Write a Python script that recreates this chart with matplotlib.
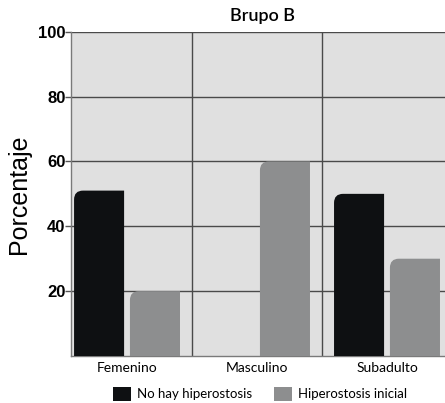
import matplotlib
matplotlib.use("Agg")
import matplotlib.pyplot as plt
from matplotlib.path import Path
from matplotlib.patches import PathPatch, Patch
import numpy as np

categories = ["Femenino", "Masculino", "Subadulto"]
no_hiperostosis = [51, 0, 50]
hiperostosis_inicial = [20, 60, 30]
series_labels = ["No hay hiperostosis", "Hiperostosis inicial"]
series_colors = ["#0e1012", "#8d8e8f"]
yticks = [20, 40, 60, 80, 100]

W, H = 445, 403
fig = plt.figure(figsize=(W / 100, H / 100), dpi=100)
ax = fig.add_axes([71 / W, 1 - 356 / H, 381 / W, 324.3 / H])
ax.set_facecolor("#e0e0e0")

x = np.arange(len(categories))
width = 0.385
offset = 0.215
xlim = (-0.431, 2.5)
ax.set_xlim(*xlim)
ax.set_ylim(0, 100)

bars = [
    ax.bar(x - offset, no_hiperostosis, width, color=series_colors[0], zorder=3),
    ax.bar(x + offset, hiperostosis_inicial, width, color=series_colors[1], zorder=3),
]

# round the top-left corner of every bar
ax_px_w = ax.get_position().width * W
ax_px_h = ax.get_position().height * H
r_px = 9
rx = r_px * (xlim[1] - xlim[0]) / ax_px_w
ry = r_px * 100 / ax_px_h
for group in bars:
    for rect in group:
        h = rect.get_height()
        if h <= 0:
            rect.set_visible(False)
            continue
        x0, y0 = rect.get_x(), rect.get_y()
        x1, y1 = x0 + rect.get_width(), y0 + h
        verts = [(x0, y0), (x0, y1 - ry), (x0, y1), (x0 + rx, y1),
                 (x1, y1), (x1, y0), (x0, y0)]
        codes = [Path.MOVETO, Path.LINETO, Path.CURVE3, Path.CURVE3,
                 Path.LINETO, Path.LINETO, Path.CLOSEPOLY]
        ax.add_patch(PathPatch(Path(verts, codes), facecolor=rect.get_facecolor(),
                               edgecolor="none", zorder=3))
        rect.set_visible(False)

# grid
ax.set_axisbelow(True)
ax.set_yticks(yticks)
ax.yaxis.grid(True, color="#4a4a4a", lw=1)
ax.set_xticks(x)
ax.set_xticks([0.5, 1.5], minor=True)
ax.xaxis.grid(True, which="minor", color="#4a4a4a", lw=1)
ax.tick_params(axis="x", which="both", length=0)
ax.set_xticklabels(categories, fontsize=10, family="Lato")
ax.tick_params(axis="x", pad=4)
ax.tick_params(axis="y", length=4, width=1, color="#555555", pad=0)
for lbl in ax.get_yticklabels():
    lbl.set_fontfamily("Liberation Sans")
    lbl.set_fontweight("bold")
    lbl.set_fontsize(12)

for s in ("top", "right"):
    ax.spines[s].set_visible(False)
for s in ("left", "bottom"):
    ax.spines[s].set_color("#7a7a7a")
    ax.spines[s].set_linewidth(1)

ax.set_ylabel("Porcentaje", fontsize=18, family="Liberation Sans", labelpad=5)
ax.set_title("Brupo B", fontsize=13, family="Lato", fontweight="semibold",
             pad=8, x=(263 - 71) / 381)

handles = [Patch(facecolor=c, edgecolor="none") for c in series_colors]
fig.legend(handles, series_labels, loc="center", bbox_to_anchor=(260 / W, 1 - 394 / H),
           ncol=2, frameon=False, prop={"family": "Lato", "size": 9.5},
           handlelength=1.36, handleheight=1.36, handletextpad=0.45,
           columnspacing=1.7, borderpad=0)

fig.savefig("out.png", dpi=100)
